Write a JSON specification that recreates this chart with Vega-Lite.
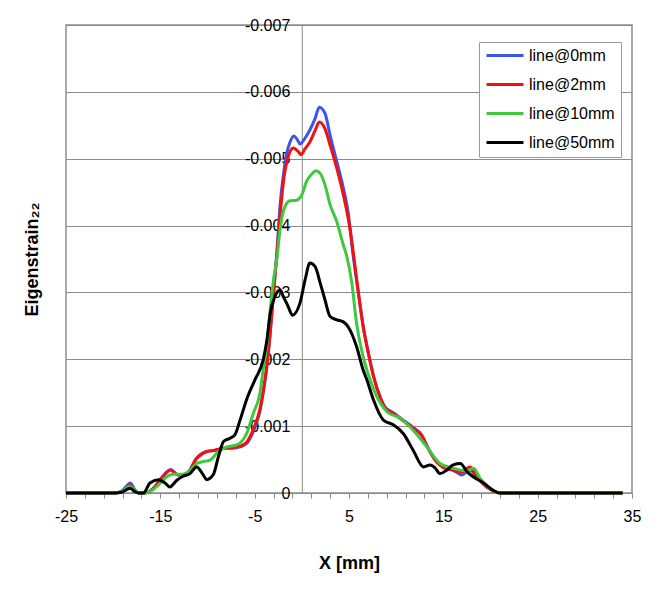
{
  "$schema": "https://vega.github.io/schema/vega-lite/v6.json",
  "description": "Eigenstrain22 profiles along X for four line positions.",
  "width": 566,
  "height": 468,
  "autosize": {"type": "none"},
  "padding": {"left": 66, "top": 25, "right": 21, "bottom": 96},
  "background": "white",
  "data": {
    "values": [
      {"s": "line@0mm", "x": -25, "y": 0},
      {"s": "line@0mm", "x": -19.8, "y": 0},
      {"s": "line@0mm", "x": -19.1, "y": -0.00003},
      {"s": "line@0mm", "x": -18.6, "y": -0.0001},
      {"s": "line@0mm", "x": -18.2, "y": -0.00015},
      {"s": "line@0mm", "x": -17.7, "y": -0.00005},
      {"s": "line@0mm", "x": -17.3, "y": 0},
      {"s": "line@0mm", "x": -16.6, "y": 0},
      {"s": "line@0mm", "x": -15.6, "y": -0.00009},
      {"s": "line@0mm", "x": -14.9, "y": -0.00022},
      {"s": "line@0mm", "x": -13.9, "y": -0.00035},
      {"s": "line@0mm", "x": -13.1, "y": -0.00027},
      {"s": "line@0mm", "x": -12.2, "y": -0.00029},
      {"s": "line@0mm", "x": -11.15, "y": -0.00052},
      {"s": "line@0mm", "x": -10.1, "y": -0.00062},
      {"s": "line@0mm", "x": -9.2, "y": -0.00064},
      {"s": "line@0mm", "x": -8.3, "y": -0.00067},
      {"s": "line@0mm", "x": -7.3, "y": -0.00067},
      {"s": "line@0mm", "x": -6.55, "y": -0.00069},
      {"s": "line@0mm", "x": -5.85, "y": -0.00074},
      {"s": "line@0mm", "x": -5.3, "y": -0.00087},
      {"s": "line@0mm", "x": -4.8, "y": -0.00105},
      {"s": "line@0mm", "x": -4.45, "y": -0.00122},
      {"s": "line@0mm", "x": -4.1, "y": -0.00149},
      {"s": "line@0mm", "x": -3.7, "y": -0.00189},
      {"s": "line@0mm", "x": -3.35, "y": -0.00239},
      {"s": "line@0mm", "x": -3.0, "y": -0.00299},
      {"s": "line@0mm", "x": -2.65, "y": -0.0036},
      {"s": "line@0mm", "x": -2.3, "y": -0.00431},
      {"s": "line@0mm", "x": -1.95, "y": -0.00476},
      {"s": "line@0mm", "x": -1.6, "y": -0.00508},
      {"s": "line@0mm", "x": -1.25, "y": -0.00525},
      {"s": "line@0mm", "x": -0.85, "y": -0.00534},
      {"s": "line@0mm", "x": -0.5, "y": -0.00529},
      {"s": "line@0mm", "x": -0.2, "y": -0.00522},
      {"s": "line@0mm", "x": 0.35, "y": -0.00531},
      {"s": "line@0mm", "x": 0.85, "y": -0.00543},
      {"s": "line@0mm", "x": 1.4, "y": -0.0056},
      {"s": "line@0mm", "x": 1.85, "y": -0.00577},
      {"s": "line@0mm", "x": 2.45, "y": -0.00568},
      {"s": "line@0mm", "x": 3.0, "y": -0.00535},
      {"s": "line@0mm", "x": 3.7, "y": -0.00496},
      {"s": "line@0mm", "x": 4.4, "y": -0.00456},
      {"s": "line@0mm", "x": 4.95, "y": -0.00416},
      {"s": "line@0mm", "x": 5.3, "y": -0.00371},
      {"s": "line@0mm", "x": 6.0, "y": -0.00299},
      {"s": "line@0mm", "x": 6.5, "y": -0.0025},
      {"s": "line@0mm", "x": 7.05, "y": -0.0021},
      {"s": "line@0mm", "x": 7.6, "y": -0.00175},
      {"s": "line@0mm", "x": 8.3, "y": -0.00144},
      {"s": "line@0mm", "x": 8.8, "y": -0.00129},
      {"s": "line@0mm", "x": 9.7, "y": -0.0012},
      {"s": "line@0mm", "x": 10.75, "y": -0.00109},
      {"s": "line@0mm", "x": 11.8, "y": -0.00098},
      {"s": "line@0mm", "x": 12.7, "y": -0.00087},
      {"s": "line@0mm", "x": 13.4, "y": -0.00067},
      {"s": "line@0mm", "x": 14.3, "y": -0.00047},
      {"s": "line@0mm", "x": 15.0, "y": -0.00039},
      {"s": "line@0mm", "x": 16.05, "y": -0.00034},
      {"s": "line@0mm", "x": 16.95, "y": -0.00027},
      {"s": "line@0mm", "x": 17.8, "y": -0.00034},
      {"s": "line@0mm", "x": 18.55, "y": -0.00024},
      {"s": "line@0mm", "x": 19.6, "y": -0.00009},
      {"s": "line@0mm", "x": 20.7, "y": -0.00001},
      {"s": "line@0mm", "x": 21.2, "y": 0},
      {"s": "line@0mm", "x": 34, "y": 0},

      {"s": "line@2mm", "x": -25, "y": 0},
      {"s": "line@2mm", "x": -19.8, "y": 0},
      {"s": "line@2mm", "x": -19.1, "y": -0.00002},
      {"s": "line@2mm", "x": -18.6, "y": -0.00008},
      {"s": "line@2mm", "x": -18.2, "y": -0.00012},
      {"s": "line@2mm", "x": -17.7, "y": -0.00004},
      {"s": "line@2mm", "x": -17.3, "y": 0},
      {"s": "line@2mm", "x": -16.6, "y": 0},
      {"s": "line@2mm", "x": -15.6, "y": -0.00009},
      {"s": "line@2mm", "x": -14.9, "y": -0.00022},
      {"s": "line@2mm", "x": -13.9, "y": -0.00034},
      {"s": "line@2mm", "x": -13.1, "y": -0.00027},
      {"s": "line@2mm", "x": -12.2, "y": -0.00029},
      {"s": "line@2mm", "x": -11.15, "y": -0.00052},
      {"s": "line@2mm", "x": -10.1, "y": -0.00062},
      {"s": "line@2mm", "x": -9.2, "y": -0.00064},
      {"s": "line@2mm", "x": -8.3, "y": -0.00067},
      {"s": "line@2mm", "x": -7.3, "y": -0.00068},
      {"s": "line@2mm", "x": -6.55, "y": -0.0007},
      {"s": "line@2mm", "x": -5.85, "y": -0.00076},
      {"s": "line@2mm", "x": -5.3, "y": -0.0009},
      {"s": "line@2mm", "x": -4.8, "y": -0.00108},
      {"s": "line@2mm", "x": -4.45, "y": -0.00125},
      {"s": "line@2mm", "x": -4.1, "y": -0.00152},
      {"s": "line@2mm", "x": -3.7, "y": -0.00192},
      {"s": "line@2mm", "x": -3.35, "y": -0.00241},
      {"s": "line@2mm", "x": -3.0, "y": -0.003},
      {"s": "line@2mm", "x": -2.65, "y": -0.00355},
      {"s": "line@2mm", "x": -2.3, "y": -0.00416},
      {"s": "line@2mm", "x": -1.95, "y": -0.00466},
      {"s": "line@2mm", "x": -1.45, "y": -0.00503},
      {"s": "line@2mm", "x": -0.9, "y": -0.00516},
      {"s": "line@2mm", "x": -0.35, "y": -0.0051},
      {"s": "line@2mm", "x": -0.1, "y": -0.00506},
      {"s": "line@2mm", "x": 0.35, "y": -0.00515},
      {"s": "line@2mm", "x": 0.85, "y": -0.00525},
      {"s": "line@2mm", "x": 1.4, "y": -0.00542},
      {"s": "line@2mm", "x": 1.85, "y": -0.00555},
      {"s": "line@2mm", "x": 2.45, "y": -0.00545},
      {"s": "line@2mm", "x": 3.0, "y": -0.0052},
      {"s": "line@2mm", "x": 3.7, "y": -0.00486},
      {"s": "line@2mm", "x": 4.4, "y": -0.00446},
      {"s": "line@2mm", "x": 5.1, "y": -0.00396},
      {"s": "line@2mm", "x": 6.0, "y": -0.00299},
      {"s": "line@2mm", "x": 6.5, "y": -0.00249},
      {"s": "line@2mm", "x": 7.05, "y": -0.00209},
      {"s": "line@2mm", "x": 7.6, "y": -0.00174},
      {"s": "line@2mm", "x": 8.3, "y": -0.00143},
      {"s": "line@2mm", "x": 8.8, "y": -0.00128},
      {"s": "line@2mm", "x": 9.7, "y": -0.00119},
      {"s": "line@2mm", "x": 10.75, "y": -0.00108},
      {"s": "line@2mm", "x": 11.8, "y": -0.00097},
      {"s": "line@2mm", "x": 12.7, "y": -0.00086},
      {"s": "line@2mm", "x": 13.4, "y": -0.00066},
      {"s": "line@2mm", "x": 14.3, "y": -0.00046},
      {"s": "line@2mm", "x": 15.0, "y": -0.00038},
      {"s": "line@2mm", "x": 16.05, "y": -0.00034},
      {"s": "line@2mm", "x": 16.95, "y": -0.00031},
      {"s": "line@2mm", "x": 17.5, "y": -0.00037},
      {"s": "line@2mm", "x": 17.85, "y": -0.00039},
      {"s": "line@2mm", "x": 18.55, "y": -0.00024},
      {"s": "line@2mm", "x": 19.6, "y": -0.00009},
      {"s": "line@2mm", "x": 20.7, "y": -0.00001},
      {"s": "line@2mm", "x": 21.2, "y": 0},
      {"s": "line@2mm", "x": 34, "y": 0},

      {"s": "line@10mm", "x": -25, "y": 0},
      {"s": "line@10mm", "x": -19.8, "y": 0},
      {"s": "line@10mm", "x": -19.1, "y": -0.00002},
      {"s": "line@10mm", "x": -18.2, "y": -0.0001},
      {"s": "line@10mm", "x": -17.7, "y": -0.00004},
      {"s": "line@10mm", "x": -17.3, "y": 0},
      {"s": "line@10mm", "x": -16.6, "y": 0},
      {"s": "line@10mm", "x": -16.1, "y": -0.00002},
      {"s": "line@10mm", "x": -15.2, "y": -0.00012},
      {"s": "line@10mm", "x": -14.35, "y": -0.00024},
      {"s": "line@10mm", "x": -13.6, "y": -0.00028},
      {"s": "line@10mm", "x": -12.6, "y": -0.00028},
      {"s": "line@10mm", "x": -11.85, "y": -0.00034},
      {"s": "line@10mm", "x": -11.15, "y": -0.00044},
      {"s": "line@10mm", "x": -10.45, "y": -0.00047},
      {"s": "line@10mm", "x": -9.75, "y": -0.00049},
      {"s": "line@10mm", "x": -8.85, "y": -0.00062},
      {"s": "line@10mm", "x": -7.95, "y": -0.00069},
      {"s": "line@10mm", "x": -6.9, "y": -0.00072},
      {"s": "line@10mm", "x": -5.85, "y": -0.00089},
      {"s": "line@10mm", "x": -5.15, "y": -0.00119},
      {"s": "line@10mm", "x": -4.45, "y": -0.00149},
      {"s": "line@10mm", "x": -4.1, "y": -0.00184},
      {"s": "line@10mm", "x": -3.7, "y": -0.00224},
      {"s": "line@10mm", "x": -3.35, "y": -0.00274},
      {"s": "line@10mm", "x": -3.0, "y": -0.00319},
      {"s": "line@10mm", "x": -2.65, "y": -0.0035},
      {"s": "line@10mm", "x": -2.3, "y": -0.00395},
      {"s": "line@10mm", "x": -1.8, "y": -0.00428},
      {"s": "line@10mm", "x": -1.25, "y": -0.00437},
      {"s": "line@10mm", "x": -0.55, "y": -0.00438},
      {"s": "line@10mm", "x": 0.0, "y": -0.00446},
      {"s": "line@10mm", "x": 0.5, "y": -0.00466},
      {"s": "line@10mm", "x": 1.05, "y": -0.00477},
      {"s": "line@10mm", "x": 1.5, "y": -0.00482},
      {"s": "line@10mm", "x": 1.95, "y": -0.00478},
      {"s": "line@10mm", "x": 2.45, "y": -0.00461},
      {"s": "line@10mm", "x": 3.0, "y": -0.00431},
      {"s": "line@10mm", "x": 3.7, "y": -0.00406},
      {"s": "line@10mm", "x": 4.4, "y": -0.00371},
      {"s": "line@10mm", "x": 4.75, "y": -0.00355},
      {"s": "line@10mm", "x": 5.3, "y": -0.00314},
      {"s": "line@10mm", "x": 5.8, "y": -0.00254},
      {"s": "line@10mm", "x": 6.5, "y": -0.00204},
      {"s": "line@10mm", "x": 7.25, "y": -0.00169},
      {"s": "line@10mm", "x": 7.95, "y": -0.00144},
      {"s": "line@10mm", "x": 9.0, "y": -0.00122},
      {"s": "line@10mm", "x": 10.4, "y": -0.00112},
      {"s": "line@10mm", "x": 11.8, "y": -0.00094},
      {"s": "line@10mm", "x": 13.25, "y": -0.00069},
      {"s": "line@10mm", "x": 14.65, "y": -0.00044},
      {"s": "line@10mm", "x": 16.05, "y": -0.00037},
      {"s": "line@10mm", "x": 17.5, "y": -0.00033},
      {"s": "line@10mm", "x": 18.2, "y": -0.00037},
      {"s": "line@10mm", "x": 18.9, "y": -0.00022},
      {"s": "line@10mm", "x": 19.95, "y": -0.00007},
      {"s": "line@10mm", "x": 20.85, "y": 0},
      {"s": "line@10mm", "x": 34, "y": 0},

      {"s": "line@50mm", "x": -25, "y": 0},
      {"s": "line@50mm", "x": -19.8, "y": 0},
      {"s": "line@50mm", "x": -19.1, "y": -0.00001},
      {"s": "line@50mm", "x": -18.2, "y": -0.00007},
      {"s": "line@50mm", "x": -17.7, "y": -0.00002},
      {"s": "line@50mm", "x": -17.3, "y": 0},
      {"s": "line@50mm", "x": -16.8, "y": 0},
      {"s": "line@50mm", "x": -16.1, "y": -0.00015},
      {"s": "line@50mm", "x": -15.2, "y": -0.0002},
      {"s": "line@50mm", "x": -14.5, "y": -0.00015},
      {"s": "line@50mm", "x": -14.0, "y": -0.00009},
      {"s": "line@50mm", "x": -13.25, "y": -0.00019},
      {"s": "line@50mm", "x": -12.6, "y": -0.00025},
      {"s": "line@50mm", "x": -11.85, "y": -0.00029},
      {"s": "line@50mm", "x": -11.15, "y": -0.00039},
      {"s": "line@50mm", "x": -10.45, "y": -0.00027},
      {"s": "line@50mm", "x": -10.1, "y": -0.0002},
      {"s": "line@50mm", "x": -9.4, "y": -0.00027},
      {"s": "line@50mm", "x": -8.85, "y": -0.00054},
      {"s": "line@50mm", "x": -8.3, "y": -0.00077},
      {"s": "line@50mm", "x": -7.6, "y": -0.00082},
      {"s": "line@50mm", "x": -7.1, "y": -0.00087},
      {"s": "line@50mm", "x": -6.55, "y": -0.00109},
      {"s": "line@50mm", "x": -5.85, "y": -0.0014},
      {"s": "line@50mm", "x": -4.95, "y": -0.0017},
      {"s": "line@50mm", "x": -4.1, "y": -0.00199},
      {"s": "line@50mm", "x": -3.7, "y": -0.00229},
      {"s": "line@50mm", "x": -3.35, "y": -0.00269},
      {"s": "line@50mm", "x": -2.85, "y": -0.00294},
      {"s": "line@50mm", "x": -2.3, "y": -0.00304},
      {"s": "line@50mm", "x": -2.0, "y": -0.00295},
      {"s": "line@50mm", "x": -1.45, "y": -0.00279},
      {"s": "line@50mm", "x": -1.0, "y": -0.00266},
      {"s": "line@50mm", "x": -0.2, "y": -0.00284},
      {"s": "line@50mm", "x": 0.35, "y": -0.00319},
      {"s": "line@50mm", "x": 0.85, "y": -0.00344},
      {"s": "line@50mm", "x": 1.4, "y": -0.00339},
      {"s": "line@50mm", "x": 1.95, "y": -0.00314},
      {"s": "line@50mm", "x": 2.45, "y": -0.00289},
      {"s": "line@50mm", "x": 3.0, "y": -0.00264},
      {"s": "line@50mm", "x": 3.7, "y": -0.00259},
      {"s": "line@50mm", "x": 4.4, "y": -0.00256},
      {"s": "line@50mm", "x": 5.1, "y": -0.00244},
      {"s": "line@50mm", "x": 5.8, "y": -0.00219},
      {"s": "line@50mm", "x": 6.5, "y": -0.00184},
      {"s": "line@50mm", "x": 6.9, "y": -0.00169},
      {"s": "line@50mm", "x": 7.6, "y": -0.00139},
      {"s": "line@50mm", "x": 8.65, "y": -0.00109},
      {"s": "line@50mm", "x": 9.7, "y": -0.00102},
      {"s": "line@50mm", "x": 10.75, "y": -0.00089},
      {"s": "line@50mm", "x": 11.8, "y": -0.00064},
      {"s": "line@50mm", "x": 12.9, "y": -0.00039},
      {"s": "line@50mm", "x": 13.6, "y": -0.00042},
      {"s": "line@50mm", "x": 14.1, "y": -0.00038},
      {"s": "line@50mm", "x": 14.65, "y": -0.00029},
      {"s": "line@50mm", "x": 15.35, "y": -0.00034},
      {"s": "line@50mm", "x": 16.05, "y": -0.00042},
      {"s": "line@50mm", "x": 16.8, "y": -0.00044},
      {"s": "line@50mm", "x": 17.5, "y": -0.00032},
      {"s": "line@50mm", "x": 18.2, "y": -0.00024},
      {"s": "line@50mm", "x": 19.25, "y": -0.00015},
      {"s": "line@50mm", "x": 20.3, "y": -0.00004},
      {"s": "line@50mm", "x": 21.0, "y": 0},
      {"s": "line@50mm", "x": 34, "y": 0}
    ]
  },
  "layer": [
    {
      "mark": {"type": "rule", "opacity": 0},
      "encoding": {
        "y": {
          "datum": 0,
          "type": "quantitative",
          "scale": {"domain": [0, -0.007], "nice": false},
          "axis": {
            "orient": "left",
            "title": "Eigenstrain₂₂",
            "titleFontSize": 18,
            "titleFontWeight": "bold",
            "titlePadding": 25,
            "values": [-0.007, -0.006, -0.005, -0.004, -0.003, -0.002, -0.001, 0],
            "labels": false,
            "ticks": false,
            "domain": false,
            "grid": true,
            "gridColor": "#8a8a8a",
            "gridWidth": 1
          }
        }
      }
    },
    {
      "mark": {"type": "line", "strokeWidth": 3, "interpolate": "monotone"},
      "encoding": {
        "x": {
          "field": "x",
          "type": "quantitative",
          "scale": {"domain": [-25, 35], "nice": false},
          "axis": {
            "title": "X [mm]",
            "titleFontSize": 18,
            "titleFontWeight": "bold",
            "titlePadding": 30,
            "values": [-25, -23, -21, -19, -17, -15, -13, -11, -9, -7, -5, -3, -1, 1, 3, 5, 7, 9, 11, 13, 15, 17, 19, 21, 23, 25, 27, 29, 31, 33, 35],
            "labelExpr": "(datum.value + 25) % 10 == 0 ? '' + datum.value : ''",
            "labelFontSize": 16,
            "labelPadding": 10,
            "labelFlush": false,
            "tickSize": 5,
            "tickColor": "#8a8a8a",
            "domainColor": "#8a8a8a",
            "grid": false
          }
        },
        "y": {
          "field": "y",
          "type": "quantitative",
          "axis": {
            "orient": "left",
            "title": null,
            "offset": -235.8,
            "values": [-0.007, -0.006, -0.005, -0.004, -0.003, -0.002, -0.001, 0],
            "labelExpr": "datum.value == 0 ? '0' : '-' + format(abs(datum.value), '.3f')",
            "labelFontSize": 16,
            "labelPadding": 7,
            "labelFlush": false,
            "tickSize": 5,
            "tickColor": "#8a8a8a",
            "domainColor": "#8a8a8a",
            "grid": false
          }
        },
        "color": {
          "field": "s",
          "type": "nominal",
          "scale": {
            "domain": ["line@0mm", "line@2mm", "line@10mm", "line@50mm"],
            "range": ["#3a55f0", "#f51010", "#3ec83e", "#000000"]
          },
          "legend": {
            "title": null,
            "orient": "none",
            "legendX": 413,
            "legendY": 17,
            "symbolType": "stroke",
            "symbolStrokeWidth": 3,
            "symbolSize": 1369,
            "clipHeight": 15,
            "labelFontSize": 16,
            "labelOffset": 4,
            "rowPadding": 12,
            "padding": 6,
            "strokeColor": "#999999",
            "fillColor": "white"
          }
        }
      }
    }
  ],
  "resolve": {"axis": {"y": "independent"}},
  "config": {
    "font": "Liberation Sans",
    "view": {"stroke": "#8a8f8f", "strokeWidth": 1.5},
    "axis": {"labelColor": "black", "titleColor": "black"}
  }
}
